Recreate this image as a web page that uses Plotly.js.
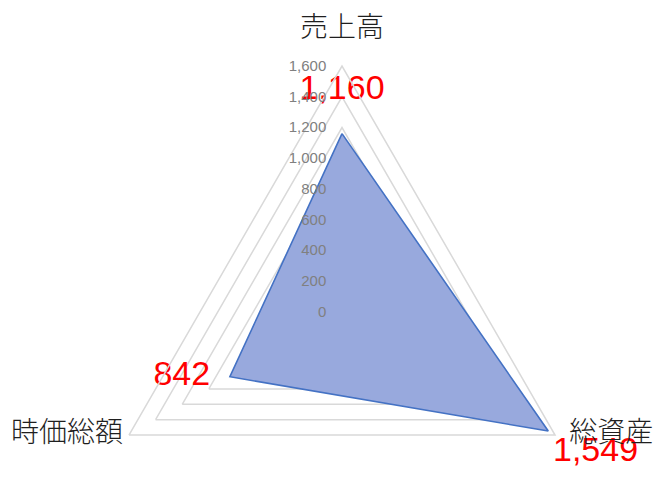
<!DOCTYPE html>
<html>
<head>
<meta charset="utf-8">
<script src="https://cdn.plot.ly/plotly-3.0.1.min.js"></script>
<style>
html,body{margin:0;padding:0;overflow:hidden;background:#fff;}
#chart{width:672px;height:560px;}
</style>
</head>
<body>
<div id="chart"></div>
<script>
const categories = ['売上高', '総資産', '時価総額'];
const values = [1160, 1549, 842];
const valueLabels = ['1,160', '1,549', '842'];
const radialTicks = [0, 200, 400, 600, 800, 1000, 1200, 1400, 1600];
const axisMax = 1600;

const closedTheta = categories.concat([categories[0]]);
const closedR = values.concat([values[0]]);

const area = {
  type: 'scatterpolar',
  r: closedR,
  theta: closedTheta,
  mode: 'lines',
  fill: 'toself',
  fillcolor: '#98a9dd',
  fillgradient: {type: 'vertical', colorscale: [[0, '#8199da'], [1, '#adb9e1']]},
  line: {color: '#4472c4', width: 1.6},
  hoverinfo: 'skip',
  showlegend: false
};

const valueText = {
  type: 'scatterpolar',
  r: values,
  theta: categories,
  mode: 'markers+text',
  text: valueLabels,
  textposition: ['top center', 'bottom right', 'middle left'],
  textfont: {family: 'Liberation Sans, Arial, sans-serif', size: 34, color: '#ff0000'},
  marker: {size: [41, 6, 30], opacity: 0},
  hoverinfo: 'skip',
  showlegend: false
};

const categoryText = {
  type: 'scatterpolar',
  r: categories.map(() => axisMax),
  theta: categories,
  mode: 'markers+text',
  text: categories,
  textposition: ['top center', 'middle right', 'middle left'],
  textfont: {family: 'Noto Sans CJK JP, sans-serif', size: 28, color: '#1f1f1f', weight: 300},
  marker: {size: [34, 21, 8], opacity: 0},
  hoverinfo: 'skip',
  showlegend: false
};

const layout = {
  width: 672,
  height: 560,
  margin: {l: 96, r: 84, t: 66, b: 2},
  paper_bgcolor: '#ffffff',
  showlegend: false,
  polar: {
    bgcolor: '#ffffff',
    gridshape: 'linear',
    domain: {x: [0, 1], y: [0, 1]},
    angularaxis: {
      type: 'category',
      categoryorder: 'array',
      categoryarray: categories,
      direction: 'clockwise',
      rotation: 90,
      showgrid: false,
      showline: true,
      linecolor: '#d9d9d9',
      linewidth: 1.5,
      showticklabels: false,
      ticks: ''
    },
    radialaxis: {
      range: [0, axisMax],
      tickvals: radialTicks,
      tickformat: ',d',
      angle: 90,
      tickangle: 90,
      side: 'counterclockwise',
      showline: false,
      showgrid: true,
      gridcolor: '#d9d9d9',
      gridwidth: 1.5,
      ticks: 'outside',
      ticklen: 10,
      tickcolor: 'rgba(0,0,0,0)',
      tickfont: {family: 'Liberation Sans, Arial, sans-serif', size: 15, color: '#808080'}
    }
  }
};

Plotly.newPlot('chart', [area, valueText, categoryText], layout, {displayModeBar: false, staticPlot: true});
</script>
</body>
</html>
